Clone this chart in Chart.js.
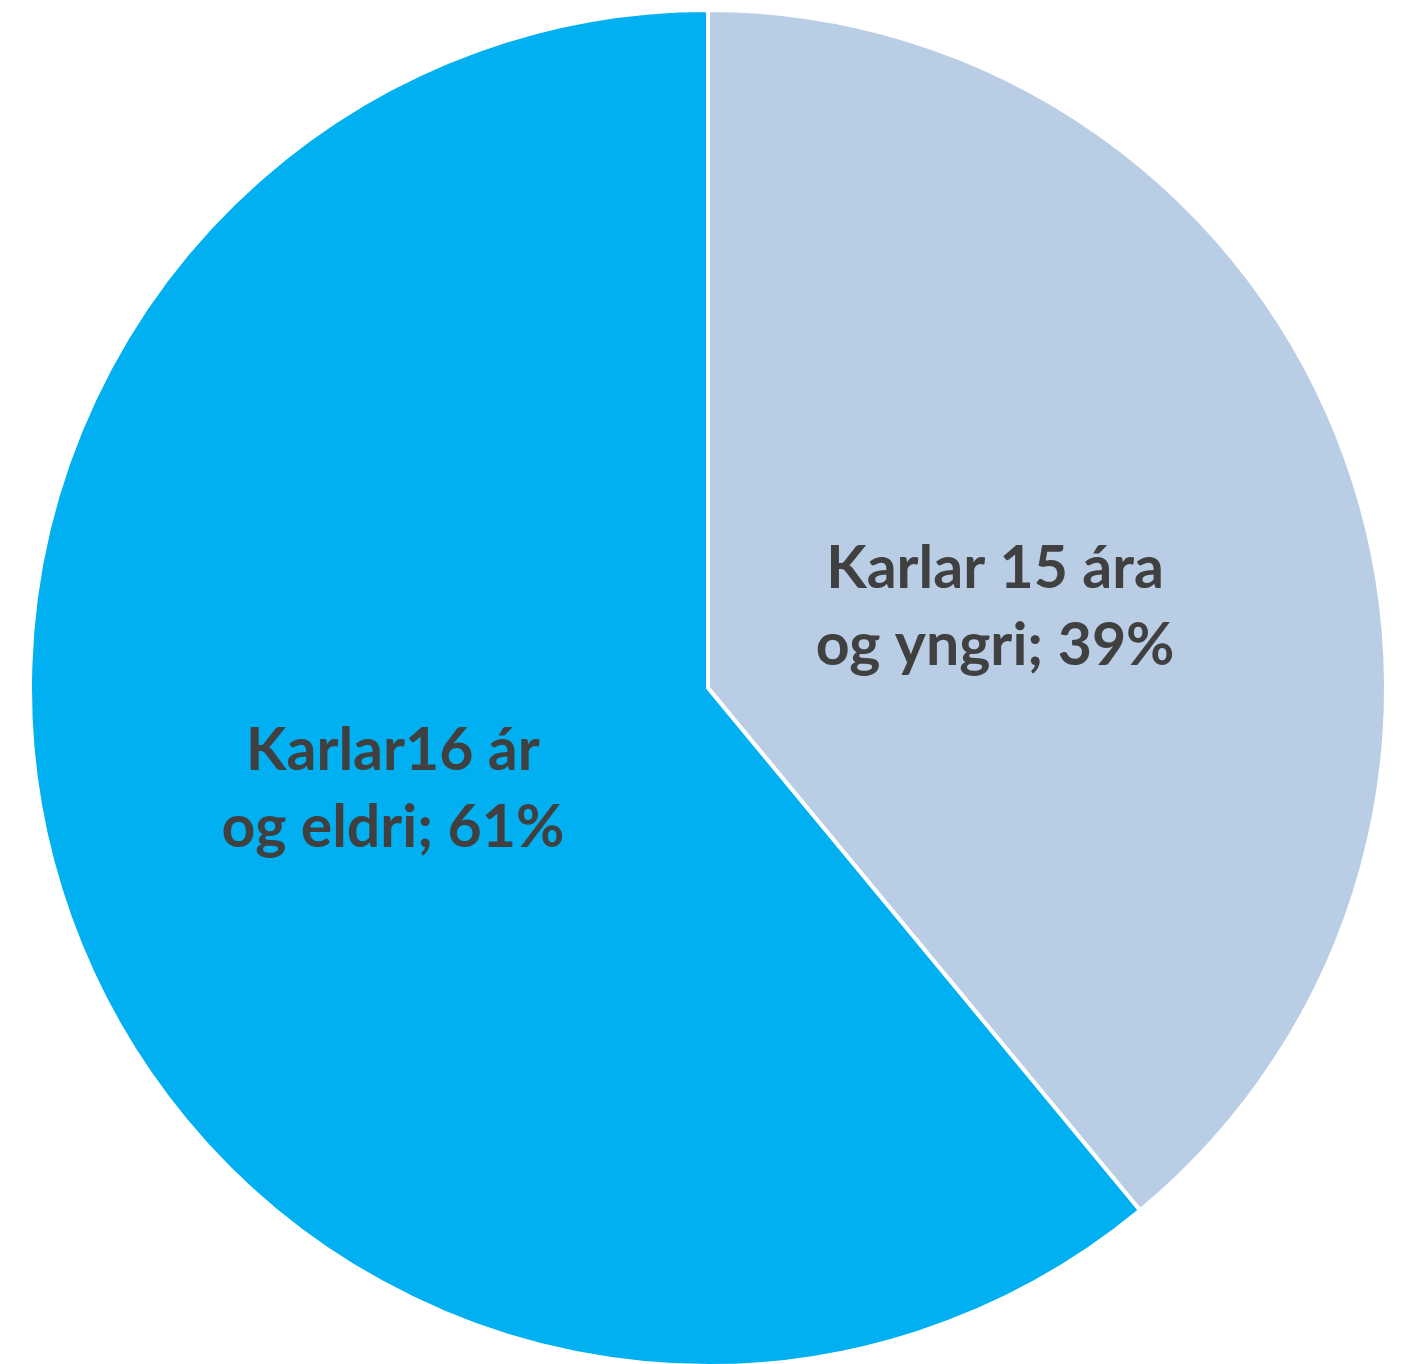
<!DOCTYPE html>
<html>
<head>
<meta charset="utf-8">
<script src="https://cdn.jsdelivr.net/npm/chart.js@4/dist/chart.umd.min.js"></script>
<style>
  html, body { margin: 0; padding: 0; background: #fff; overflow: hidden; }
  canvas { display: block; }
</style>
</head>
<body>
<canvas id="pieChart" width="1406" height="1368"></canvas>
<script>
// data
var labelLines = [
    ["Karlar 15 ára", "og yngri; 39%"],
    ["Karlar16 ár", "og eldri; 61%"]
];
var labels = ["Karlar 15 ára og yngri", "Karlar16 ár og eldri"];
var values = [39, 61];
var colors = ["#B9CDE5", "#00B0F0"];

// draws the two-line labels inside the slices
var sliceLabels = {
    id: 'sliceLabels',
    afterDatasetsDraw: function(chart, args, opts) {
        var ctx = chart.ctx;
        var arcs = chart.getDatasetMeta(0).data;
        ctx.save();
        ctx.font = "bold 59px Lato, 'Open Sans', sans-serif";
        ctx.fillStyle = "#404040";
        ctx.textAlign = "center";
        ctx.textBaseline = "middle";
        arcs.forEach(function(arc, i) {
            var mid = (arc.startAngle + arc.endAngle) / 2;
            var r = arc.outerRadius * opts.factor;
            var nudge = opts.nudge[i] || [0, 0];
            var x = arc.x + Math.cos(mid) * r + nudge[0];
            var y = arc.y + Math.sin(mid) * r + nudge[1];
            var lines = labelLines[i];
            var lh = 77;
            lines.forEach(function(line, j) {
                ctx.fillText(line, x, y + (j - (lines.length - 1) / 2) * lh);
            });
        });
        ctx.restore();
    }
};

var section = document.getElementById("pieChart");
var myChart = new Chart(section, {
    type: 'pie',
    data: {
        labels: labels,
        datasets: [{
            data: values,
            backgroundColor: colors,
            borderColor: "#ffffff",
            borderWidth: 4
        }]
    },
    options: {
        responsive: false,
        animation: false,
        layout: { padding: { top: 8, bottom: 0, left: 28, right: 18 } },
        plugins: {
            legend: { display: false },
            tooltip: { enabled: false },
            sliceLabels: { factor: 0.45, nudge: [[0, 23], [-28, -2]] }
        }
    },
    plugins: [sliceLabels]
});
</script>
</body>
</html>
